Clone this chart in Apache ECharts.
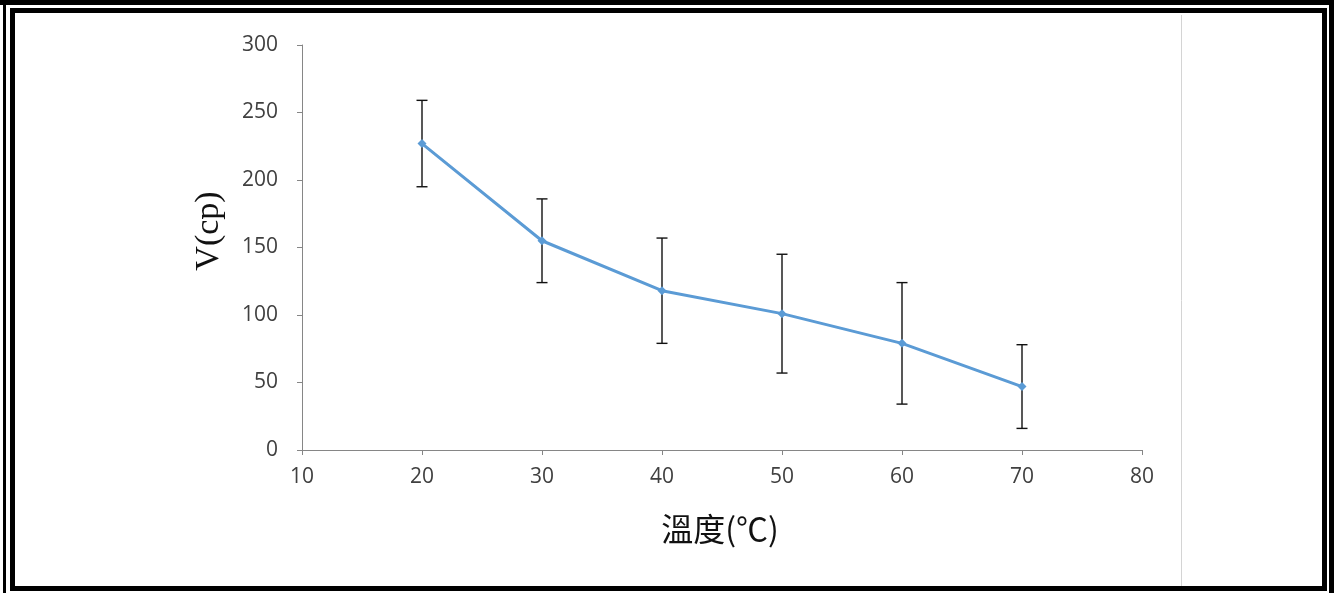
<!DOCTYPE html>
<html>
<head>
<meta charset="utf-8">
<title>溫度 - 黏度</title>
<script src="https://cdn.jsdelivr.net/npm/echarts@6/dist/echarts.min.js"></script>
<style>
  html, body { margin: 0; padding: 0; background: #fff; }
  #chart { width: 1334px; height: 593px; }
</style>
</head>
<body>
<div id="chart"></div>
<script>
// data
var temps = [20, 30, 40, 50, 60, 70];          // 溫度 (℃)
var viscosity = [227, 155, 118, 101, 79, 47];  // V (cp)
var errors = [32, 31, 39, 44, 45, 31];         // +/- error

var lineData = temps.map(function (t, i) { return [t, viscosity[i]]; });
var errData = temps.map(function (t, i) {
  return [t, viscosity[i] - errors[i], viscosity[i] + errors[i]];
});

var chart = echarts.init(document.getElementById('chart'));

// frame lines round the picture (page decoration, not data)
function bar(x, y, w, h) {
  return { type: 'rect', shape: { x: x, y: y, width: w, height: h }, style: { fill: '#000' }, silent: true };
}
var frame = [
  bar(0, 0, 1334, 5),          // top band
  bar(3, 0, 3, 593),           // outer left
  bar(1329, 0, 5, 593),        // outer right
  bar(10, 8, 1317, 5),         // inner top
  bar(10, 8, 5, 583),          // inner left
  bar(1322, 8, 5, 583),        // inner right
  bar(10, 586, 1317, 5)        // inner bottom
];
// right edge of the chart area
frame.push({
  type: 'line', shape: { x1: 1181.5, y1: 15, x2: 1181.5, y2: 586 },
  style: { stroke: '#d4d4d4', lineWidth: 1 }, silent: true
});
// axis titles
frame.push({
  type: 'text', x: 209, y: 231, rotation: Math.PI / 2,
  style: {
    text: 'V(cp)', font: '34px "Liberation Serif", "DejaVu Serif", serif',
    fill: '#111', align: 'center', verticalAlign: 'middle'
  }
});
frame.push({
  type: 'text', x: 720, y: 529,
  style: {
    text: '溫度(℃)', font: '32px "Noto Sans CJK TC", "Liberation Serif", serif',
    fill: '#111', align: 'center', verticalAlign: 'middle'
  }
});

var axisLine = { lineStyle: { color: '#868686', width: 1 } };
var labelFont = { color: '#404040', fontSize: 21, fontFamily: '"Open Sans", sans-serif' };

chart.setOption({
  backgroundColor: '#fff',
  animation: false,
  grid: { left: 302, top: 45, right: 192, bottom: 143 },
  xAxis: {
    type: 'value', min: 10, max: 80, interval: 10,
    axisLine: axisLine,
    axisTick: { show: true, length: 5, lineStyle: { color: '#868686' } },
    axisLabel: Object.assign({ margin: 17 }, labelFont),
    splitLine: { show: false }
  },
  yAxis: {
    type: 'value', min: 0, max: 300, interval: 50,
    axisLine: Object.assign({ show: true }, axisLine),
    axisTick: { show: true, length: 5, lineStyle: { color: '#868686' } },
    axisLabel: Object.assign({ margin: 24 }, labelFont),
    splitLine: { show: false }
  },
  series: [
    {
      name: 'error',
      type: 'custom',
      z: 2,
      data: errData,
      renderItem: function (params, api) {
        var x = api.value(0);
        var lo = api.coord([x, api.value(1)]);
        var hi = api.coord([x, api.value(2)]);
        var cap = 5.5;
        var st = { stroke: '#111', lineWidth: 1.4 };
        return {
          type: 'group',
          children: [
            { type: 'line', shape: { x1: lo[0], y1: lo[1], x2: hi[0], y2: hi[1] }, style: st },
            { type: 'line', shape: { x1: hi[0] - cap, y1: hi[1], x2: hi[0] + cap, y2: hi[1] }, style: st },
            { type: 'line', shape: { x1: lo[0] - cap, y1: lo[1], x2: lo[0] + cap, y2: lo[1] }, style: st }
          ]
        };
      }
    },
    {
      name: 'V',
      type: 'line',
      z: 3,
      data: lineData,
      symbol: 'diamond',
      symbolSize: 9,
      lineStyle: { color: '#5b9bd5', width: 3 },
      itemStyle: { color: '#5b9bd5' }
    }
  ],
  graphic: frame
});
</script>
</body>
</html>
